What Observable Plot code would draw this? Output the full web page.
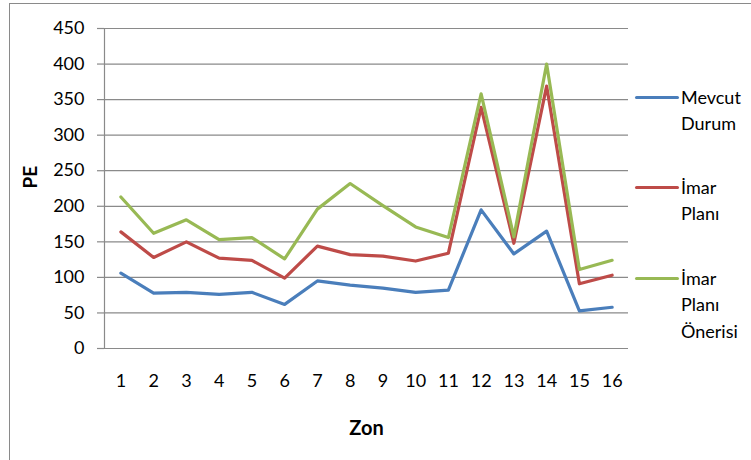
<!DOCTYPE html>
<html>
<head>
<meta charset="utf-8">
<script src="https://cdn.jsdelivr.net/npm/d3@7"></script>
<script src="https://cdn.jsdelivr.net/npm/@observablehq/plot@0.6"></script>
<style>
  html, body { margin: 0; padding: 0; background: #fff; }
  #wrap { position: relative; width: 751px; height: 460px; overflow: hidden; font-family: Lato, "Open Sans", sans-serif; }
  #border { position: absolute; left: 9px; top: 3px; width: 800px; height: 500px; border-left: 1.5px solid #8a8a8a; border-top: 1.5px solid #8a8a8a; pointer-events: none; }
  .lg-line { position: absolute; left: 635px; width: 44px; height: 3px; border-radius: 2px; }
  .lg-text { position: absolute; left: 681px; font-size: 18px; line-height: 26.5px; color: #000; white-space: nowrap; }
</style>
</head>
<body>
<div id="wrap"><div id="chart"></div><div id="border"></div><div id="legend"></div></div>
<script>
const zones = [1, 2, 3, 4, 5, 6, 7, 8, 9, 10, 11, 12, 13, 14, 15, 16];
const seriesNames = ["Mevcut Durum", "İmar Planı", "İmar Planı Önerisi"];
const seriesLegendLines = [["Mevcut", "Durum"], ["İmar", "Planı"], ["İmar", "Planı", "Önerisi"]];
const seriesColors = ["#4a7ebb", "#be4b48", "#98b954"];
const mevcut = [106, 78, 79, 76, 79, 62, 95, 89, 85, 79, 82, 195, 133, 165, 53, 58];
const imar   = [164, 128, 150, 127, 124, 99, 144, 132, 130, 123, 134, 339, 148, 369, 91, 103];
const oneri  = [213, 162, 181, 153, 156, 126, 196, 232, 201, 171, 156, 358, 157, 400, 111, 124];
const yTicks = [0, 50, 100, 150, 200, 250, 300, 350, 400, 450];
const yTitle = "PE";
const xTitle = "Zon";

const seriesValues = [mevcut, imar, oneri];
const data = [];
seriesNames.forEach((s, i) => zones.forEach((z, j) => data.push({series: s, zone: z, value: seriesValues[i][j]})));

const grid = "#8a8a8a";
const chart = Plot.plot({
  width: 751, height: 460,
  marginLeft: 104, marginRight: 123, marginTop: 28, marginBottom: 112,
  style: {fontFamily: "Lato, 'Open Sans', sans-serif", fontSize: "18px", background: "transparent", color: "#000"},
  x: {type: "point", domain: zones, padding: 0.5, round: false, label: null},
  y: {domain: [0, 450], label: null},
  color: {domain: seriesNames, range: seriesColors},
  marks: [
    Plot.gridY(yTicks, {stroke: grid, strokeOpacity: 1, strokeWidth: 1.2}),
    Plot.axisY(yTicks, {tickSize: 7, tickPadding: 13, stroke: grid, strokeOpacity: 1, strokeWidth: 1.2, fontSize: 18, label: null}),
    Plot.axisX({tickSize: 0, tickPadding: 26, fontSize: 18, label: null}),
    Plot.frame({anchor: "left", stroke: grid, strokeWidth: 1.2}),
    Plot.line(data, {x: "zone", y: "value", z: "series", stroke: "series", strokeWidth: 3.2, strokeLinejoin: "round", strokeLinecap: "round"}),
    Plot.text([yTitle], {frameAnchor: "left", dx: -74, rotate: -90, fontWeight: "bold", fontSize: 19}),
    Plot.text([xTitle], {frameAnchor: "bottom", dy: 86, fontWeight: "bold", fontSize: 20})
  ]
});
document.getElementById("chart").appendChild(chart);

const legend = document.getElementById("legend");
const lineCenters = [97, 187, 278];
seriesNames.forEach((s, i) => {
  const ln = document.createElement("div");
  ln.className = "lg-line";
  ln.style.top = (lineCenters[i] - 1.5) + "px";
  ln.style.background = seriesColors[i];
  legend.appendChild(ln);
  const tx = document.createElement("div");
  tx.className = "lg-text";
  tx.style.top = (lineCenters[i] - 13.25) + "px";
  tx.innerHTML = seriesLegendLines[i].join("<br>");
  legend.appendChild(tx);
});
</script>
</body>
</html>
